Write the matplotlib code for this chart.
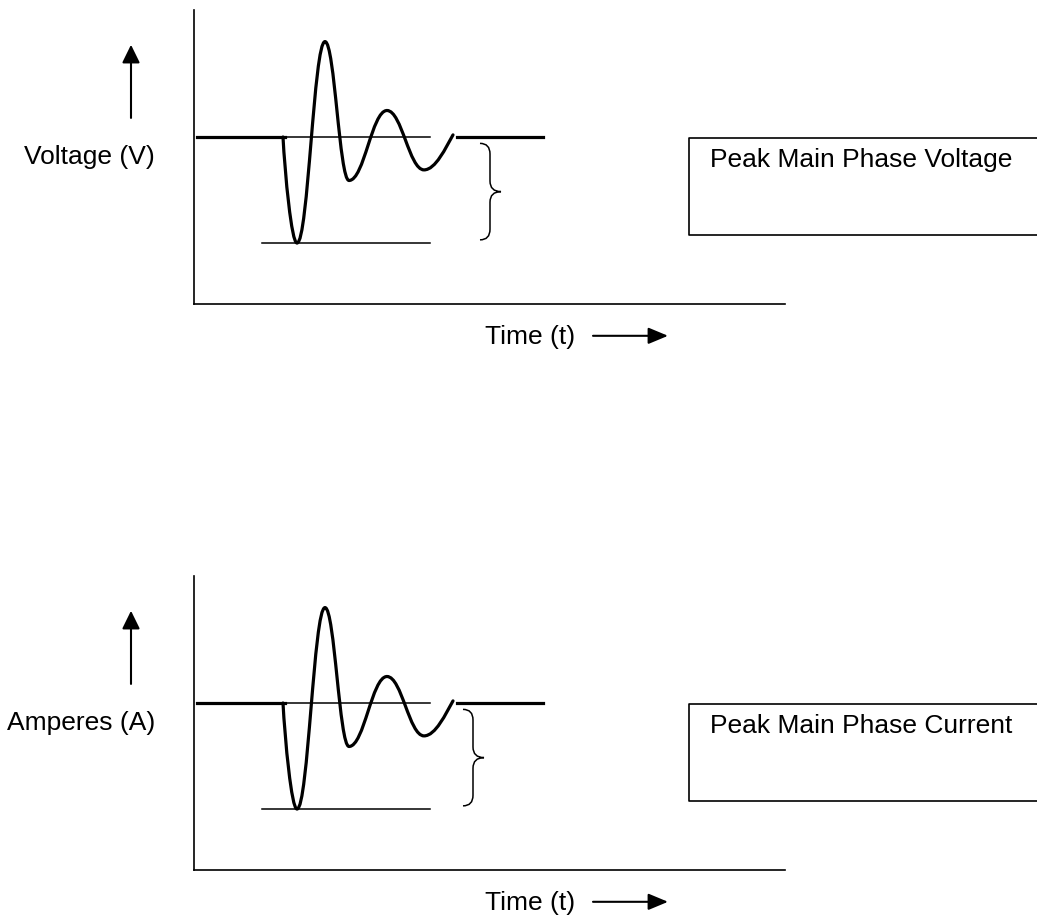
import matplotlib.pyplot as plt
from matplotlib.path import Path
from matplotlib.patches import PathPatch

plt.rcParams['font.family'] = ['Liberation Sans', 'DejaVu Sans']

# transient key points: time (ms) and amplitude (per unit of the dip depth)
wave_t = [8.9, 10.3, 13.1, 15.5, 19.3, 23.0, 25.9]
wave_v = [0.0, -1.0, 0.9, -0.41, 0.25, -0.31, 0.02]

# steady level before, reference level, steady level after, lowest level
pre_t = [0.3, 9.1]
ref_t = [9.1, 23.6]
post_t = [26.3, 34.9]
low_t = [6.8, 23.6]
low_v = -1.0

panel_ylabels = ['Voltage (V)', 'Amperes (A)']
panel_boxes = ['Peak Main Phase Voltage', 'Peak Main Phase Current']
xlabel = 'Time (t)'
brace_x = [28.6, 26.9]


def wave_path(t, v):
    # smooth curve through the extremes (flat tangent at each extreme)
    verts = [(t[0], v[0])]
    codes = [Path.MOVETO]
    # first drop is almost straight
    verts += [(t[0] + 0.2, v[0] - 0.35), (t[1] - 0.55, v[1]), (t[1], v[1])]
    codes += [Path.CURVE4] * 3
    for i in range(1, len(t) - 2):
        dx = t[i + 1] - t[i]
        verts += [(t[i] + 0.4 * dx, v[i]), (t[i + 1] - 0.4 * dx, v[i + 1]), (t[i + 1], v[i + 1])]
        codes += [Path.CURVE4] * 3
    dx = t[-1] - t[-2]
    verts += [(t[-2] + 0.4 * dx, v[-2]), (t[-1] - 0.25 * dx, v[-1] - 0.12), (t[-1], v[-1])]
    codes += [Path.CURVE4] * 3
    return Path(verts, codes)


def brace(ax, x0, ytop, ybot):
    xm = x0 + 1.0
    xt = x0 + 2.1
    ym = (ytop + ybot) / 2
    r = 0.1
    verts = [(x0, ytop), (xm, ytop), (xm, ytop - r), (xm, ym + r), (xm, ym), (xt, ym),
             (xm, ym), (xm, ym - r), (xm, ybot + r), (xm, ybot), (x0, ybot)]
    codes = [Path.MOVETO, Path.CURVE3, Path.CURVE3, Path.LINETO, Path.CURVE3, Path.CURVE3,
             Path.CURVE3, Path.CURVE3, Path.LINETO, Path.CURVE3, Path.CURVE3]
    ax.add_patch(PathPatch(Path(verts, codes), fill=False, lw=1.1, color='black', clip_on=False))


def draw_panel(fig, bottom, i):
    ax = fig.add_axes([194 / 1037, bottom, 591 / 1037, 294 / 921])
    ax.set_xlim(0, 59.1)
    ax.set_ylim(-1.575, 1.198)
    ax.set_xticks([])
    ax.set_yticks([])
    ax.spines['top'].set_visible(False)
    ax.spines['right'].set_visible(False)
    for s in ['left', 'bottom']:
        ax.spines[s].set_linewidth(1.2)
    ax.patch.set_visible(False)

    # waveform
    ax.add_patch(PathPatch(wave_path(wave_t, wave_v), fill=False, lw=2.3, color='black',
                           capstyle='round', joinstyle='round'))
    ax.plot(pre_t, [0, 0], color='black', lw=2.3)
    ax.plot(post_t, [0, 0], color='black', lw=2.3)
    ax.plot(ref_t, [0, 0], color='black', lw=1.1)
    ax.plot(low_t, [low_v, low_v], color='black', lw=1.1)

    brace(ax, brace_x[i], -0.06, -0.97)

    # box with label
    ax.plot([84.6, 49.5, 49.5, 84.6], [-0.005, -0.005, -0.925, -0.925], color='black', lw=1.2, clip_on=False)
    ax.text(51.6, -0.22, panel_boxes[i], fontsize=19, va='center', ha='left')

    # y label with arrow
    ax.text(-3.9, -0.19, panel_ylabels[i], fontsize=19, va='center', ha='right')
    ax.annotate('', xy=(-6.3, 0.87), xytext=(-6.3, 0.18), annotation_clip=False,
                arrowprops=dict(arrowstyle='-|>,head_length=0.55,head_width=0.27', lw=1.5,
                                color='black', mutation_scale=20, shrinkA=0, shrinkB=0))

    # x label with arrow
    ax.text(33.6, -1.89, xlabel, fontsize=19, va='center', ha='center')
    ax.annotate('', xy=(47.4, -1.875), xytext=(39.9, -1.875), annotation_clip=False,
                arrowprops=dict(arrowstyle='-|>,head_length=0.6,head_width=0.25', lw=1.5,
                                color='black', mutation_scale=20, shrinkA=0, shrinkB=0))
    return ax


fig = plt.figure(figsize=(10.37, 9.21), dpi=100)
draw_panel(fig, 1 - 304 / 921, 0)
draw_panel(fig, 1 - 870 / 921, 1)

plt.savefig('out.png', dpi=100)
